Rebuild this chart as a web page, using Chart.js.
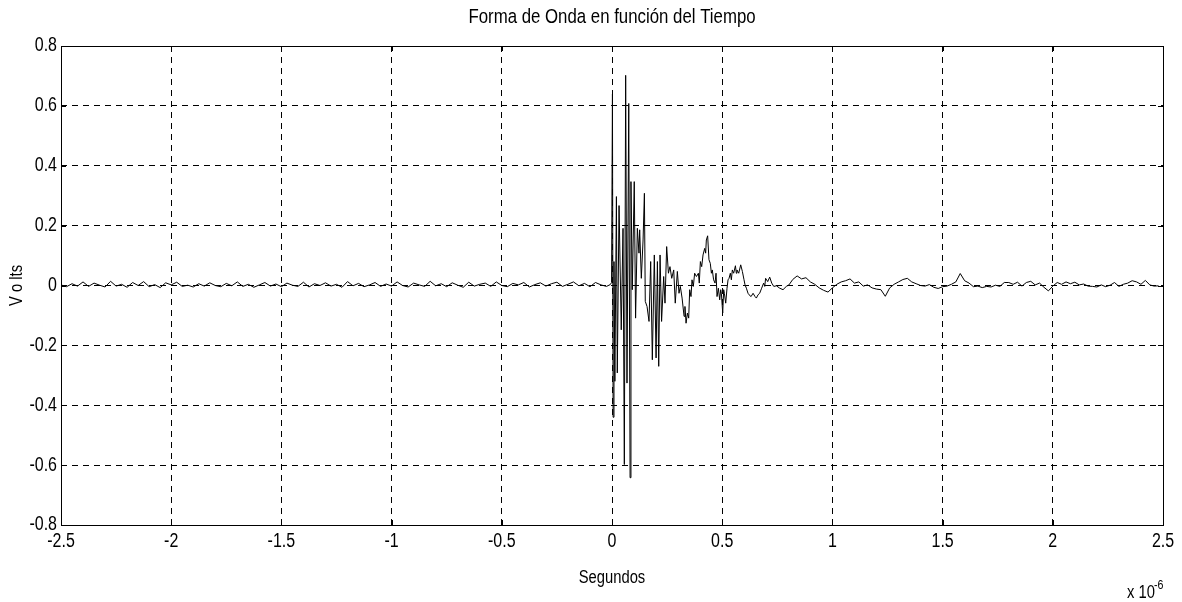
<!DOCTYPE html>
<html>
<head>
<meta charset="utf-8">
<script src="https://cdn.jsdelivr.net/npm/chart.js@4.4.1/dist/chart.umd.min.js"></script>
<style>
html,body{margin:0;padding:0;background:#fff;}
#wrap{width:1182px;height:602px;position:relative;}
</style>
</head>
<body>
<div id="wrap"><canvas id="c" width="1182" height="602"></canvas></div>
<script>
// ---- data (time in units of 1e-6 s, voltage in V) ----
const preTime = [-2.500,-2.475,-2.450,-2.425,-2.400,-2.375,-2.350,-2.325,-2.300,-2.275,-2.250,-2.225,-2.200,-2.175,-2.150,-2.125,-2.100,-2.075,-2.050,-2.025,-2.000,-1.975,-1.950,-1.925,-1.900,-1.875,-1.850,-1.825,-1.800,-1.775,-1.750,-1.725,-1.700,-1.675,-1.650,-1.625,-1.600,-1.575,-1.550,-1.525,-1.500,-1.475,-1.450,-1.425,-1.400,-1.375,-1.350,-1.325,-1.300,-1.275,-1.250,-1.225,-1.200,-1.175,-1.150,-1.125,-1.100,-1.075,-1.050,-1.025,-1.000,-0.975,-0.950,-0.925,-0.900,-0.875,-0.850,-0.825,-0.800,-0.775,-0.750,-0.725,-0.700,-0.675,-0.650,-0.625,-0.600,-0.575,-0.550,-0.525,-0.500,-0.475,-0.450,-0.425,-0.400,-0.375,-0.350,-0.325,-0.300,-0.275,-0.250,-0.225,-0.200,-0.175,-0.150,-0.125,-0.100,-0.075,-0.050,-0.025];
const preVolts = [0.002,-0.004,0.006,-0.002,0.012,-0.003,0.008,0.001,-0.005,0.014,
-0.002,0.004,-0.006,0.010,0.000,0.013,-0.004,0.003,-0.007,0.009,
0.002,0.011,-0.003,0.001,-0.005,0.006,-0.002,0.009,0.000,-0.004,
0.007,-0.001,0.012,-0.003,0.004,-0.006,0.002,0.010,-0.002,0.005,
-0.004,0.008,0.001,-0.003,0.011,-0.005,0.006,0.000,0.009,-0.002,
0.004,-0.006,0.013,-0.001,0.007,-0.004,0.002,0.010,-0.003,0.005,
-0.002,0.012,0.000,-0.005,0.008,0.002,-0.003,0.014,-0.001,0.006,
-0.004,0.009,0.001,-0.006,0.011,-0.002,0.004,0.008,-0.003,0.012,
0.000,-0.004,0.007,0.002,0.010,-0.005,0.003,0.009,-0.002,0.006,
0.011,-0.003,0.004,0.012,-0.001,0.007,-0.004,0.010,0.002,-0.003];

const burstTime = [-0.008,-0.002,0.002,0.005,0.009,0.013,0.020,0.024,0.032,0.042,0.050,0.056,0.062,0.068,0.076,0.082,0.086,0.092,0.101,0.107,0.115,0.1225,0.1256,0.133,0.141,0.147,0.151,0.159,0.168,0.1755,0.183,0.192,0.200,0.206,0.212,0.218,0.225,0.2345,0.2405,0.248,0.256,0.263,0.271,0.280,0.287,0.2965,0.304,0.310,0.318,0.327,0.331,0.336,0.342,0.348,0.3525,0.3585,0.363,0.369,0.375,0.383,0.392,0.396,0.401,0.407,0.413,0.4206,0.425,0.428,0.434,0.440,0.446,0.451,0.455,0.461,0.4675,0.472,0.4766,0.4826,0.4887,0.4932,0.4962,0.5023,0.5068,0.5098,0.5159,0.5219,0.5265,0.531,0.537,0.5416,0.546,0.552,0.560,0.564,0.567,0.575,0.584,0.5915,0.599,0.6036,0.6097,0.6172,0.6218,0.631,0.640,0.649,0.655,0.6626,0.670,0.679,0.688,0.693,0.697,0.7065,0.7156,0.7247,0.734,0.746,0.761,0.776,0.791,0.803];
const burstVolts = [0.003,0.010,0.640,-0.440,0.080,-0.320,0.297,-0.292,0.267,-0.148,0.191,-0.598,0.702,-0.326,0.608,-0.642,0.347,-0.014,0.347,-0.109,0.191,0.108,0.186,0.024,0.152,0.308,-0.053,-0.070,-0.120,0.080,-0.248,0.102,-0.242,0.080,-0.270,0.102,-0.120,0.030,-0.059,0.130,0.041,0.063,0.024,0.052,-0.059,0.047,-0.026,-0.003,-0.042,-0.103,-0.070,-0.126,-0.092,-0.109,-0.014,-0.037,0.019,-0.003,0.041,0.030,0.041,0.008,0.080,0.063,0.102,0.124,0.108,0.152,0.166,0.086,0.074,0.041,0.052,0.019,0.008,0.041,-0.037,-0.009,-0.048,-0.014,-0.026,-0.092,-0.014,-0.026,-0.059,-0.009,0.019,0.024,0.041,0.019,0.052,0.041,0.066,0.041,0.052,0.041,0.069,0.047,0.019,0.002,-0.009,-0.026,-0.031,-0.037,-0.026,-0.037,-0.042,-0.031,-0.026,-0.009,0.008,-0.003,0.024,0.013,0.028,0.008,-0.003,-0.001,-0.009,-0.014,-0.003];

const tailTime = [0.82,0.84,0.86,0.88,0.90,0.92,0.94,0.96,0.98,1.00,1.02,1.04,1.06,1.08,1.10,1.12,1.14,1.16,1.18,1.20,1.22,1.24,1.26,1.28,1.30,1.32,1.34,1.36,1.38,1.40,1.42,1.44,1.46,1.48,1.50,1.52,1.54,1.56,1.58,1.60,1.62,1.64,1.66,1.68,1.70,1.72,1.74,1.76,1.78,1.80,1.82,1.84,1.86,1.88,1.90,1.92,1.94,1.96,1.98,2.00,2.02,2.04,2.06,2.08,2.10,2.12,2.14,2.16,2.18,2.20,2.22,2.24,2.26,2.28,2.30,2.32,2.34,2.36,2.38,2.40,2.42,2.44,2.46,2.48,2.50];
const tailVolts = [0.002,0.020,0.032,0.022,0.026,0.012,0.004,-0.008,-0.016,-0.022,-0.008,0.004,0.012,0.016,0.022,0.008,0.012,-0.002,0.002,-0.008,-0.012,-0.014,-0.036,-0.008,0.004,0.012,0.020,0.024,0.012,0.006,0.000,-0.002,0.003,-0.006,-0.010,-0.004,-0.002,0.004,0.012,0.040,0.016,0.008,-0.004,-0.002,-0.007,-0.003,-0.005,0.001,-0.003,0.010,0.010,0.004,0.011,-0.002,0.010,0.014,0.002,0.008,-0.006,-0.018,-0.002,0.010,0.004,0.012,0.006,0.011,0.002,0.005,-0.002,-0.003,-0.005,0.002,-0.004,0.001,0.010,-0.003,0.004,0.008,0.016,0.012,0.004,0.017,0.002,-0.002,-0.001];

const xTickValues = [-2.5,-2,-1.5,-1,-0.5,0,0.5,1,1.5,2,2.5];
const xTickLabels = ['-2.5','-2','-1.5','-1','-0.5','0','0.5','1','1.5','2','2.5'];
const yTickValues = [-0.8,-0.6,-0.4,-0.2,0,0.2,0.4,0.6,0.8];
const yTickLabels = ['-0.8','-0.6','-0.4','-0.2','0','0.2','0.4','0.6','0.8'];

const titleText = 'Forma de Onda en función del Tiempo';
const xTitle = 'Segundos';
const yTitle = 'V o lts';
const expBase = 'x 10';
const expPower = '-6';

// ---- build ----
const allTime = preTime.concat(burstTime, tailTime);
const allVolts = preVolts.concat(burstVolts, tailVolts);
const points = allTime.map((t, i) => ({x: t, y: allVolts[i]}));

const FONT = '"Liberation Sans", Arial, sans-serif';
const SQUEEZE = 0.82; // narrow (Arial Narrow-like) look

function narrowText(ctx, text, x, y, size, align, baseline, rot) {
  ctx.save();
  ctx.translate(x, y);
  if (rot) ctx.rotate(rot);
  ctx.scale(SQUEEZE, 1);
  ctx.font = size + 'px ' + FONT;
  ctx.textAlign = align;
  ctx.textBaseline = baseline;
  ctx.fillStyle = '#000';
  ctx.fillText(text, 0, 0);
  ctx.restore();
}

const boxPlugin = {
  id: 'matlabBox',
  afterDraw(chart) {
    const {ctx, chartArea: a, scales} = chart;
    ctx.save();
    ctx.strokeStyle = '#000';
    ctx.lineWidth = 1;
    ctx.setLineDash([]);
    ctx.strokeRect(Math.round(a.left) + 0.5, Math.round(a.top) + 0.5, Math.round(a.right - a.left), Math.round(a.bottom - a.top));
    const L = 5;
    ctx.beginPath();
    xTickValues.forEach(v => {
      const px = Math.round(scales.x.getPixelForValue(v)) + 0.5;
      ctx.moveTo(px, a.bottom); ctx.lineTo(px, a.bottom - L);
      ctx.moveTo(px, a.top); ctx.lineTo(px, a.top + L);
    });
    yTickValues.forEach(v => {
      const py = Math.round(scales.y.getPixelForValue(v)) + 0.5;
      ctx.moveTo(a.left, py); ctx.lineTo(a.left + L, py);
      ctx.moveTo(a.right, py); ctx.lineTo(a.right - L, py);
    });
    ctx.stroke();
    ctx.restore();

    // tick labels, placed by the scales
    xTickValues.forEach((v, i) => {
      narrowText(ctx, xTickLabels[i], scales.x.getPixelForValue(v), a.bottom + 7, 19.5, 'center', 'top');
    });
    yTickValues.forEach((v, i) => {
      narrowText(ctx, yTickLabels[i], a.left - 4, scales.y.getPixelForValue(v), 19.5, 'right', 'middle');
    });
    // titles
    narrowText(ctx, titleText, (a.left + a.right) / 2, 17, 20.5, 'center', 'middle');
    narrowText(ctx, xTitle, (a.left + a.right) / 2, 578, 18, 'center', 'middle');
    narrowText(ctx, yTitle, 17, (a.top + a.bottom) / 2, 18, 'center', 'middle', -Math.PI / 2);
    narrowText(ctx, expBase, 1127, 598, 18, 'left', 'alphabetic');
    narrowText(ctx, expPower, 1154, 589, 13, 'left', 'alphabetic');
  }
};

new Chart(document.getElementById('c'), {
  type: 'line',
  data: {
    datasets: [{
      data: points,
      borderColor: '#000',
      borderWidth: 1,
      pointRadius: 0,
      tension: 0,
      fill: false
    }]
  },
  options: {
    responsive: false,
    animation: false,
    parsing: false,
    layout: {padding: {left: 0, right: 19, top: 46, bottom: 0}},
    plugins: {legend: {display: false}, tooltip: {enabled: false}, title: {display: false}},
    scales: {
      x: {
        type: 'linear', min: -2.5, max: 2.5,
        afterBuildTicks: s => { s.ticks = xTickValues.map(v => ({value: v})); },
        afterFit: s => { s.height = 77; },
        ticks: {display: false},
        grid: {color: '#000', lineWidth: 1, drawTicks: false},
        border: {display: false, dash: [6, 5]}
      },
      y: {
        type: 'linear', min: -0.8, max: 0.8,
        afterBuildTicks: s => { s.ticks = yTickValues.map(v => ({value: v})); },
        afterFit: s => { s.width = 61; },
        ticks: {display: false},
        grid: {color: '#000', lineWidth: 1, drawTicks: false},
        border: {display: false, dash: [6, 5]}
      }
    }
  },
  plugins: [boxPlugin]
});
</script>
</body>
</html>
